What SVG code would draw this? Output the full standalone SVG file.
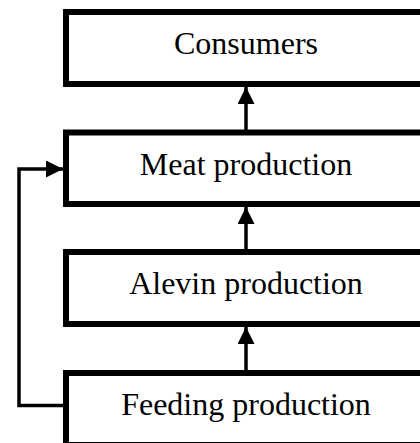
<svg xmlns="http://www.w3.org/2000/svg" width="420" height="443" viewBox="0 0 420 443">
<defs>
<style>
.box{fill:#fff;stroke:#000;stroke-width:6}
.lbl{font-family:"Liberation Serif","Times New Roman",serif;font-size:32px;fill:#000;text-anchor:middle}
.con{fill:none;stroke:#000;stroke-width:3.5}
</style>
<marker id="ah" markerUnits="userSpaceOnUse" markerWidth="17" markerHeight="17" refX="16" refY="8" orient="auto" viewBox="0 0 16 16">
<path d="M0,0 L16,8 L0,16 Z" fill="#000"/>
</marker>
</defs>
<g id="consumers"><rect class="box" x="66" y="12" width="366" height="72"/><text class="lbl" x="246" y="54">Consumers</text></g>
<g id="meat"><rect class="box" x="66" y="132.5" width="366" height="71.5"/><text class="lbl" x="246" y="175">Meat production</text></g>
<g id="alevin"><rect class="box" x="66" y="252" width="366" height="72"/><text class="lbl" x="246" y="294">Alevin production</text></g>
<g id="feeding"><rect class="box" x="66" y="373" width="366" height="72"/><text class="lbl" x="246" y="415">Feeding production</text></g>
<g id="connectors">
<path class="con" d="M246,130 L246,87" marker-end="url(#ah)"/>
<path class="con" d="M246,250 L246,207" marker-end="url(#ah)"/>
<path class="con" d="M246,370 L246,327" marker-end="url(#ah)"/>
<path class="con" d="M63,405.5 L19,405.5 L19,169 L63,169" marker-end="url(#ah)"/>
</g>
</svg>
